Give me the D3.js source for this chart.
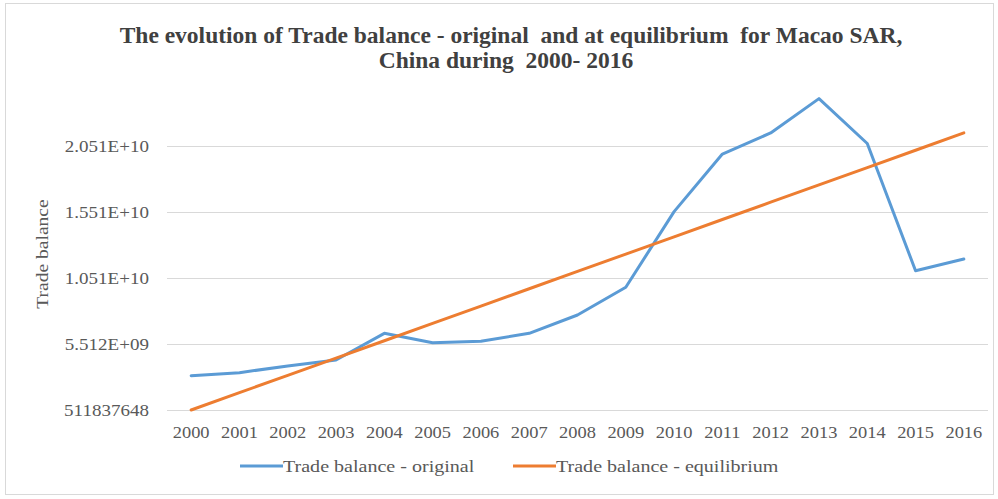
<!DOCTYPE html>
<html><head><meta charset="utf-8">
<script src="https://cdn.jsdelivr.net/npm/d3@7/dist/d3.min.js"></script>
<style>body{margin:0;background:#fff;}svg{display:block;}</style>
</head><body>
<svg id="chart" width="998" height="499"></svg>
<script>
const years = ["2000","2001","2002","2003","2004","2005","2006","2007","2008","2009","2010","2011","2012","2013","2014","2015","2016"];
const original = [3.11e9,3.34e9,3.85e9,4.30e9,6.32e9,5.61e9,5.72e9,6.32e9,7.71e9,9.81e9,15.54e9,19.9e9,21.5e9,24.1e9,20.7e9,11.06e9,11.95e9];
const equilibrium = [0.511837648e9,1.824e9,3.136e9,4.448e9,5.760e9,7.072e9,8.384e9,9.696e9,11.008e9,12.320e9,13.632e9,14.944e9,16.256e9,17.568e9,18.880e9,20.192e9,21.504e9];
const yTicks = [511837648, 5511837648, 10511837648, 15511837648, 20511837648];
const yTickLabels = ["511837648","5.512E+09","1.051E+10","1.551E+10","2.051E+10"];
const seriesNames = ["Trade balance - original","Trade balance - equilibrium"];
const colors = ["#5B9BD5","#ED7D31"];

const svg = d3.select("#chart");
const font = "'Liberation Serif','Times New Roman',serif";

svg.append("rect").attr("x",5.5).attr("y",3.5).attr("width",988).attr("height",491)
  .attr("fill","#fff").attr("stroke","#d9d9d9");

const pL = 167, pR = 988, pT = 80, pB = 410;
const x = d3.scaleBand().domain(years).range([pL,pR]);
const y = d3.scaleLinear().domain([511837648, 25511837648]).range([pB, pT]);

// gridlines
svg.append("g").selectAll("line").data(yTicks).join("line")
  .attr("x1",pL).attr("x2",pR)
  .attr("y1",d=>Math.round(y(d))+0.5).attr("y2",d=>Math.round(y(d))+0.5)
  .attr("stroke","#d9d9d9").attr("stroke-width",1);

// y axis labels
const yAxis = d3.axisLeft(y).tickValues(yTicks).tickFormat((d,i)=>yTickLabels[i]).tickSize(0).tickPadding(0);
const gy = svg.append("g").attr("transform",`translate(149,0)`).call(yAxis);
gy.select(".domain").remove();
gy.selectAll("text").attr("font-family",font).attr("font-size",17).attr("fill","#595959")
  .attr("transform","scale(1.12,1)");

// x axis labels
const xAxis = d3.axisBottom(x).tickSize(0).tickPadding(0);
const gx = svg.append("g").attr("transform",`translate(0,427)`).call(xAxis);
gx.select(".domain").remove();
gx.selectAll("text").attr("font-family",font).attr("font-size",16).attr("fill","#595959")
  .attr("transform","scale(1.15,1)");

// y title
svg.append("text").attr("transform","translate(48,254) rotate(-90) scale(1.15,1)")
  .attr("text-anchor","middle").attr("font-family",font).attr("font-size",17)
  .attr("fill","#595959").text("Trade balance");

// title
const t = svg.append("text").attr("text-anchor","middle").attr("font-family",font)
  .attr("font-weight","bold").attr("font-size",23.5).attr("fill","#404040").attr("style","white-space:pre");
t.append("tspan").attr("x",511).attr("y",43).text("The evolution of Trade balance - original  and at equilibrium  for Macao SAR,");
t.append("tspan").attr("x",506).attr("y",68).text("China during  2000- 2016");

// lines
const line = d3.line().x((d,i)=>x(years[i])+x.bandwidth()/2).y(d=>y(d));
[original, equilibrium].forEach((s,k)=>{
  svg.append("path").datum(s).attr("d",line).attr("fill","none")
    .attr("stroke",colors[k]).attr("stroke-width",3).attr("stroke-linejoin","round").attr("stroke-linecap","round");
});

// legend
const legendX = [240, 513];
seriesNames.forEach((n,k)=>{
  svg.append("line").attr("x1",legendX[k]).attr("x2",legendX[k]+43).attr("y1",466).attr("y2",466)
    .attr("stroke",colors[k]).attr("stroke-width",3);
  svg.append("text").attr("transform",`translate(${legendX[k]+43},472) scale(1.18,1)`).attr("font-family",font)
    .attr("font-size",17).attr("fill","#595959").text(n);
});
</script>
</body></html>
